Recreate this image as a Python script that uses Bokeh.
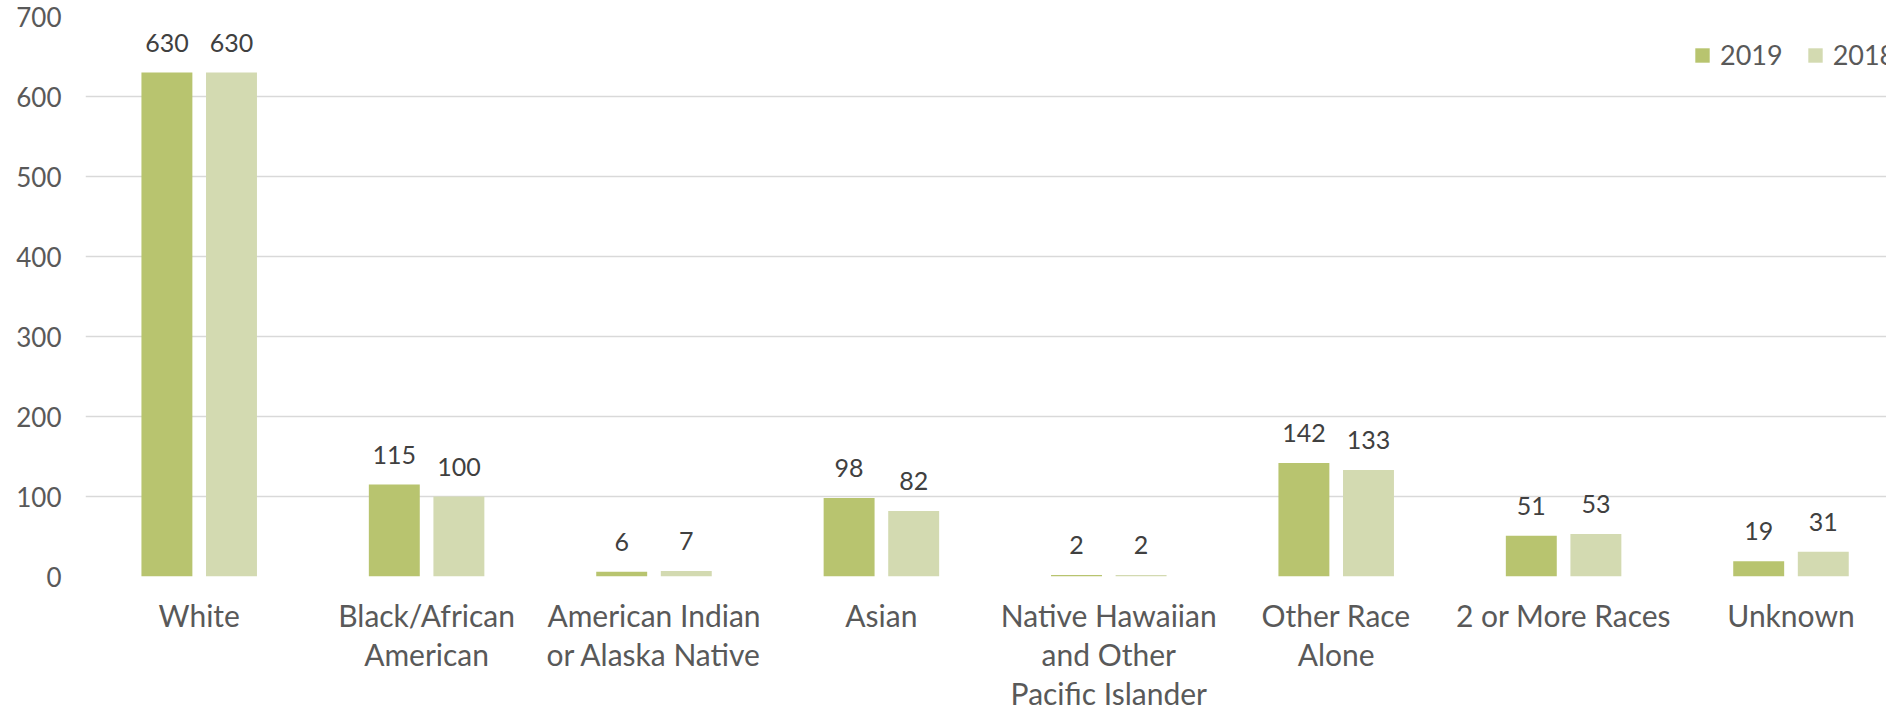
from bokeh.plotting import figure
from bokeh.models import (ColumnDataSource, Range1d, FixedTicker, LabelSet, Legend, LegendItem)
from bokeh.transform import dodge
from bokeh.core.properties import value
from bokeh.embed import file_html
from bokeh.resources import INLINE

categories = ["White", "Black/African\nAmerican", "American Indian\nor Alaska Native", "Asian",
              "Native Hawaiian\nand Other\nPacific Islander", "Other Race\nAlone",
              "2 or More Races", "Unknown"]
values_2019 = [630, 115, 6, 98, 2, 142, 51, 19]
values_2018 = [630, 100, 7, 82, 2, 133, 53, 31]
series_names = ["2019", "2018"]
y_ticks = [0, 100, 200, 300, 400, 500, 600, 700]

FONT = "Lato"
C2019 = "#b8c46f"
C2018 = "#d3dab1"

idx = list(range(len(categories)))
src = ColumnDataSource(dict(idx=idx, v19=values_2019, v18=values_2018,
                            t19=[str(v) for v in values_2019],
                            t18=[str(v) for v in values_2018]))

p = figure(width=1886, height=713, output_backend="svg", toolbar_location=None,
           x_range=Range1d(-0.5, 7.42), y_range=Range1d(0, 700),
           min_border_left=85, min_border_right=0, min_border_top=16, min_border_bottom=0)
p.outline_line_color = None
p.background_fill_color = "white"
p.border_fill_color = "white"

off = 0.142
w = 0.224
r19 = p.vbar(x=dodge("idx", -off, range=p.x_range), top="v19", width=w, source=src,
             fill_color=C2019, line_color=None)
r18 = p.vbar(x=dodge("idx", off, range=p.x_range), top="v18", width=w, source=src,
             fill_color=C2018, line_color=None)

for col, vcol, o in (("t19", "v19", -off), ("t18", "v18", off)):
    lab = LabelSet(x=dodge("idx", o, range=p.x_range), y=vcol, text=col,
                   source=src, text_align="center", text_baseline="alphabetic",
                   y_offset=21, text_font=value(FONT), text_font_size="25px",
                   text_color="#404040")
    p.add_layout(lab)

# axes
p.xaxis.ticker = FixedTicker(ticks=idx)
p.xaxis.major_label_overrides = {i: c for i, c in enumerate(categories)}
p.xaxis.major_label_text_font = FONT
p.xaxis.major_label_text_font_size = "30px"
p.xaxis.major_label_text_line_height = 1.085
p.xaxis.major_label_text_color = "#595959"
p.xaxis.major_label_standoff = 20
p.xaxis.major_tick_out = 0
p.xaxis.major_tick_in = 0
p.xaxis.axis_line_color = None
p.xaxis.major_tick_line_color = None
p.xaxis.minor_tick_line_color = None

p.yaxis.ticker = FixedTicker(ticks=y_ticks)
p.yaxis.major_label_text_font = FONT
p.yaxis.major_label_text_font_size = "26px"
p.yaxis.major_label_text_color = "#595959"
p.yaxis.major_label_standoff = 24
p.yaxis.major_tick_out = 0
p.yaxis.major_tick_in = 0
p.yaxis.axis_line_color = None
p.yaxis.major_tick_line_color = None
p.yaxis.minor_tick_line_color = None

p.xgrid.grid_line_color = None
p.ygrid.grid_line_color = "#d9d9d9"
p.ygrid.grid_line_width = 1.5

legend = Legend(items=[LegendItem(label=series_names[0], renderers=[r19]),
                       LegendItem(label=series_names[1], renderers=[r18])],
                orientation="horizontal", location=(1608, 505),
                glyph_width=18, glyph_height=18, label_standoff=9, spacing=23,
                padding=0, margin=0, border_line_color=None, background_fill_alpha=0,
                label_text_font=FONT, label_text_font_size="27px", label_text_color="#595959")
p.add_layout(legend)

open("out.html", "w").write(file_html(p, INLINE))
